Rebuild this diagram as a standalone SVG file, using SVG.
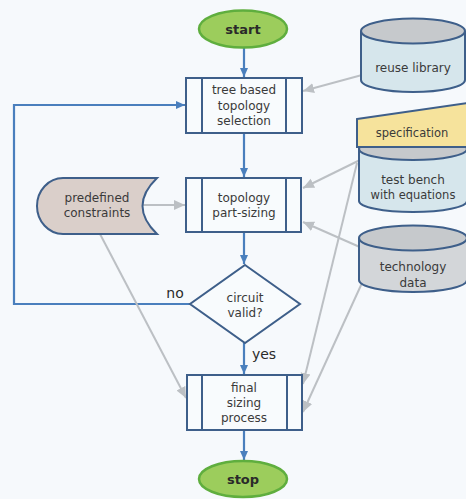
<svg xmlns="http://www.w3.org/2000/svg" width="466" height="499" viewBox="0 0 466 499">
<defs>
<style>
text{font-family:"DejaVu Sans","Verdana",sans-serif;font-size:12px;fill:#3a3a3a;text-anchor:middle}
.term{fill:#9ccd5c;stroke:#5fae3e;stroke-width:2.5}
.term-t{font-weight:bold;font-size:13px;fill:#2a2a2a}
.proc{fill:#f8fbfd;stroke:#3e5f8a;stroke-width:2}
.dia{fill:#f8fbfd;stroke:#3e5f8a;stroke-width:2}
.cyl{fill:#d6e6ec;stroke:#3e5f8a;stroke-width:2}
.cylg{fill:#d3d6d9;stroke:#3e5f8a;stroke-width:2}
.cyltop{fill:#c6c9cc;stroke:#3e5f8a;stroke-width:2}
.blue{stroke:#4a7fbd;stroke-width:2.2;fill:none}
.gray{stroke:#bcc0c4;stroke-width:2;fill:none}
.lbl{font-size:14px;fill:#2a2a2a}
</style>
<marker id="ab" markerUnits="userSpaceOnUse" markerWidth="10" markerHeight="10" refX="9" refY="5" orient="auto"><path d="M0,1 L9,5 L0,9 Z" fill="#4a7fbd"/></marker>
<marker id="ag" markerUnits="userSpaceOnUse" markerWidth="12" markerHeight="12" refX="11" refY="6" orient="auto"><path d="M0,1 L11,6 L0,11 Z" fill="#bcc0c4"/></marker>
</defs>
<rect width="466" height="499" fill="#f6f9fc"/>
<g id="connectors">
<line class="blue" x1="244" y1="48" x2="244" y2="77" marker-end="url(#ab)"/>
<line class="blue" x1="244" y1="133" x2="244" y2="177" marker-end="url(#ab)"/>
<line class="blue" x1="244" y1="232" x2="244" y2="264" marker-end="url(#ab)"/>
<line class="blue" x1="244" y1="343" x2="244" y2="374" marker-end="url(#ab)"/>
<line class="blue" x1="244" y1="430" x2="244" y2="460" marker-end="url(#ab)"/>
<polyline class="blue" points="190,304 14,304 14,105 185,105" marker-end="url(#ab)"/>
<line class="gray" x1="362" y1="75" x2="303" y2="91" marker-end="url(#ag)"/>
<line class="gray" x1="360" y1="160" x2="303" y2="188" marker-end="url(#ag)"/>
<line class="gray" x1="362" y1="248" x2="303" y2="222" marker-end="url(#ag)"/>
<line class="gray" x1="357" y1="163" x2="303" y2="384" marker-end="url(#ag)"/>
<line class="gray" x1="362" y1="283" x2="303" y2="412" marker-end="url(#ag)"/>
<line class="gray" x1="142" y1="205" x2="185" y2="205" marker-end="url(#ag)"/>
<line class="gray" x1="100" y1="234" x2="186" y2="398" marker-end="url(#ag)"/>
<text class="lbl" x="175" y="298">no</text>
<text class="lbl" x="264" y="359">yes</text>
</g>
<g id="start">
<ellipse class="term" cx="243" cy="29" rx="44" ry="18.5"/>
<text class="term-t" x="243" y="34">start</text>
</g>
<g id="tree-based">
<rect class="proc" x="186" y="78" width="116" height="55"/>
<line class="proc" x1="202" y1="78" x2="202" y2="133"/>
<line class="proc" x1="286" y1="78" x2="286" y2="133"/>
<text x="244" y="94">tree based</text>
<text x="244" y="110">topology</text>
<text x="244" y="125">selection</text>
</g>
<g id="part-sizing">
<rect class="proc" x="186" y="178" width="115" height="54"/>
<line class="proc" x1="202" y1="178" x2="202" y2="232"/>
<line class="proc" x1="286" y1="178" x2="286" y2="232"/>
<text x="244" y="202">topology</text>
<text x="244" y="217">part-sizing</text>
</g>
<g id="predefined">
<path d="M63,178 H157 Q128,206 157,234 H63 A26,28 0 0 1 63,178 Z" fill="#dacfca" stroke="#3e5f8a" stroke-width="2"/>
<text x="97" y="202">predefined</text>
<text x="97" y="217">constraints</text>
</g>
<g id="valid">
<polygon class="dia" points="245,265 300,304 245,343 190,304"/>
<text x="245" y="302">circuit</text>
<text x="245" y="317">valid?</text>
</g>
<g id="final">
<rect class="proc" x="187" y="375" width="115" height="55"/>
<line class="proc" x1="202" y1="375" x2="202" y2="430"/>
<line class="proc" x1="287" y1="375" x2="287" y2="430"/>
<text x="244" y="392">final</text>
<text x="244" y="407">sizing</text>
<text x="244" y="422">process</text>
</g>
<g id="stop">
<ellipse class="term" cx="243" cy="479" rx="44" ry="18"/>
<text class="term-t" x="243" y="484">stop</text>
</g>
<g id="reuse">
<path class="cyl" d="M361,31 V80 A52,12 0 0 0 465,80 V31"/>
<ellipse class="cyltop" cx="413" cy="31" rx="52" ry="12.5"/>
<text x="413" y="72">reuse library</text>
</g>
<g id="testbench">
<path class="cyl" d="M359,148 V201 A54,11 0 0 0 467,201 V148"/>
<ellipse class="cyltop" cx="413" cy="149" rx="54" ry="11"/>
<text x="413" y="184">test bench</text>
<text x="413" y="199" style="font-size:11.5px">with equations</text>
</g>
<g id="specification">
<polygon points="357,119 468,103 468,147 357,147" fill="#f6e39c" stroke="#3e5f8a" stroke-width="2"/>
<text x="412" y="137" style="font-size:11.5px">specification</text>
</g>
<g id="technology">
<path class="cylg" d="M359,238 V280 A54,12 0 0 0 467,280 V238"/>
<ellipse class="cyltop" cx="413" cy="238" rx="54" ry="12.5"/>
<text x="413" y="271">technology</text>
<text x="413" y="287">data</text>
</g>
</svg>
